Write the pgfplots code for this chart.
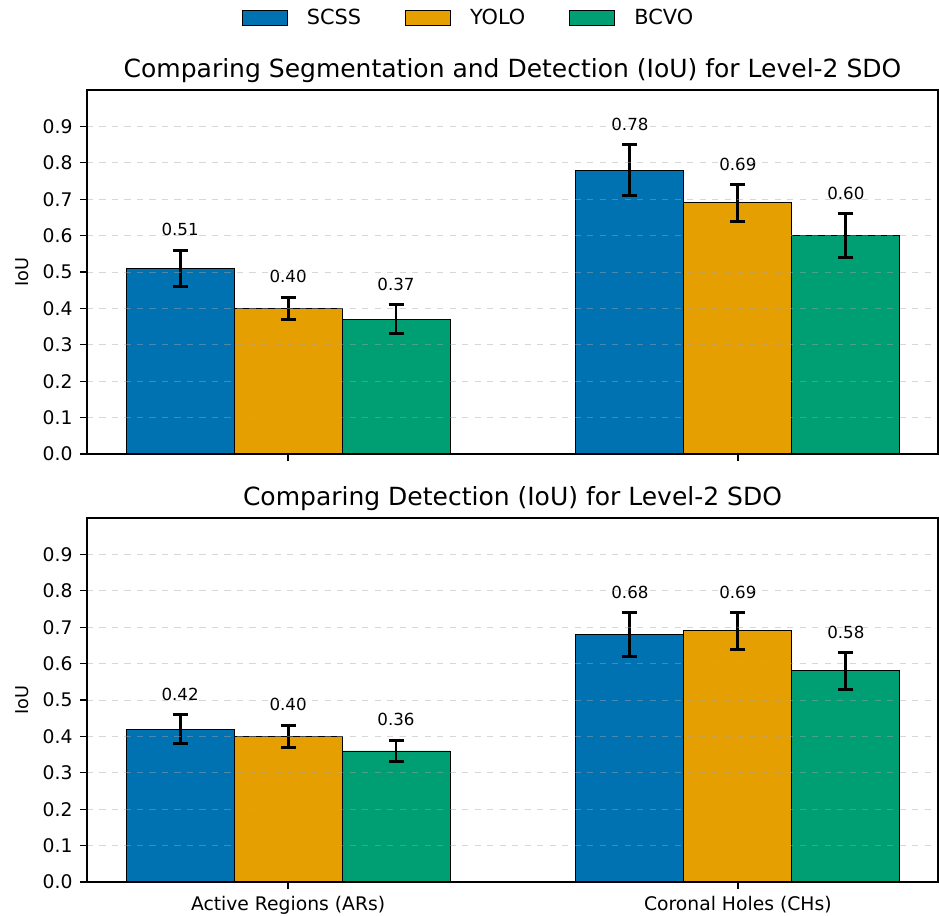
\documentclass[border=0pt]{standalone}
\usepackage{fontspec}
\setmainfont{DejaVu Sans}
\usepackage{pgfplots}
\pgfplotsset{compat=1.18}
\definecolor{cscss}{HTML}{0072B2}
\definecolor{cyolo}{HTML}{E69F00}
\definecolor{cbcvo}{HTML}{009E73}
\tikzset{vlab/.style={font=\fontsize{8}{9.6}\selectfont, anchor=base}}
\pgfplotsset{
  myaxis/.style={
    scale only axis, width=408.5pt, height=174.7pt,
    xmin=-0.447, xmax=1.445, ymin=0, ymax=1.0,
    ytick={0,0.1,0.2,0.3,0.4,0.5,0.6,0.7,0.8,0.9},
    yticklabel style={/pgf/number format/fixed,/pgf/number format/fixed zerofill,/pgf/number format/precision=1},
    /pgf/number format/assume math mode=true,
    xtick={0,1},
    tick align=outside, tick pos=left,
    major tick length=3.4pt,
    ymajorgrids,
    grid style={dashed, black!35, opacity=0.45, line width=0.5pt},
    axis on top,
    axis line style={line width=0.6pt},
    every tick/.style={black, line width=0.6pt},
    ylabel={IoU},
    ylabel style={font=\fontsize{8.5}{10}\selectfont, at={(axis description cs:-0.06,0.5)}, anchor=south},
    ticklabel style={font=\fontsize{9}{10.8}\selectfont},
    title style={font=\fontsize{12}{14.4}\selectfont, at={(0.5,1)}, anchor=base, yshift=0.1pt},
    bar width=0.24,
    error bars/y dir=both, error bars/y explicit,
    error bars/error bar style={line width=1.4pt, black},
    error bars/error mark options={rotate=90, black, mark size=3.6pt, line width=1.4pt},
  },
  mybar/.style={ybar, bar shift=0pt, fill=#1, draw=black, line width=0.45pt,
    legend image code/.code={\draw[fill=#1, draw=black, line width=0.45pt] (0pt,-3.75pt) rectangle (21.6pt,3.75pt);}},
}
\begin{document}
\begin{tikzpicture}
\useasboundingbox (-41.76pt,-221.76pt) rectangle (408.96pt,217.92pt);
\begin{axis}[myaxis, at={(0,0)},
  title={Comparing Segmentation and Detection (IoU) for Level-2 SDO},
  xticklabels={},
  legend style={at={(axis description cs:0.4495,1.198)}, anchor=center, draw=none, fill=none,
    legend columns=3, font=\fontsize{10}{12}\selectfont,
    /tikz/every odd column/.append style={column sep=7.2pt},
    /tikz/every even column/.append style={column sep=19.1pt}},
  legend cell align=left,
]
\addplot[mybar=cscss] coordinates {(-0.24,0.51) +- (0,0.05) (0.76,0.78) +- (0,0.07)};
\addplot[mybar=cyolo] coordinates {(0,0.40) +- (0,0.03) (1,0.69) +- (0,0.05)};
\addplot[mybar=cbcvo] coordinates {(0.24,0.37) +- (0,0.04) (1.24,0.60) +- (0,0.06)};
\legend{SCSS, YOLO, BCVO}
\node[vlab] at (axis cs:-0.24,0.60) {0.51};
\node[vlab] at (axis cs:0,0.47) {0.40};
\node[vlab] at (axis cs:0.24,0.45) {0.37};
\node[vlab] at (axis cs:0.76,0.89) {0.78};
\node[vlab] at (axis cs:1,0.78) {0.69};
\node[vlab] at (axis cs:1.24,0.70) {0.60};
\end{axis}
\begin{axis}[myaxis, at={(0,-205.44pt)},
  title={Comparing Detection (IoU) for Level-2 SDO},
  xticklabels={Active Regions (ARs), Coronal Holes (CHs)},
]
\addplot[mybar=cscss] coordinates {(-0.24,0.42) +- (0,0.04) (0.76,0.68) +- (0,0.06)};
\addplot[mybar=cyolo] coordinates {(0,0.40) +- (0,0.03) (1,0.69) +- (0,0.05)};
\addplot[mybar=cbcvo] coordinates {(0.24,0.36) +- (0,0.03) (1.24,0.58) +- (0,0.05)};
\node[vlab] at (axis cs:-0.24,0.50) {0.42};
\node[vlab] at (axis cs:0,0.47) {0.40};
\node[vlab] at (axis cs:0.24,0.43) {0.36};
\node[vlab] at (axis cs:0.76,0.78) {0.68};
\node[vlab] at (axis cs:1,0.78) {0.69};
\node[vlab] at (axis cs:1.24,0.67) {0.58};
\end{axis}
\end{tikzpicture}
\end{document}
